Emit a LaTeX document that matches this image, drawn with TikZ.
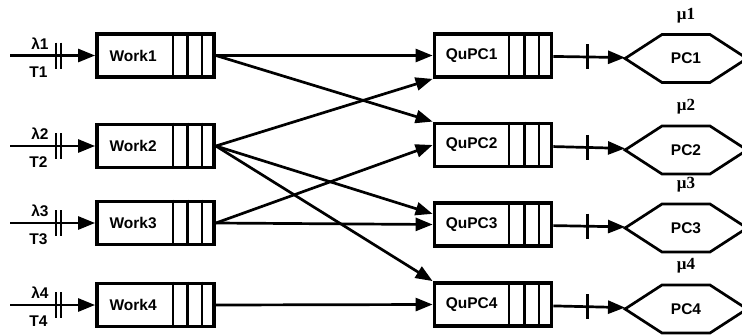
\documentclass[tikz,border=0pt]{standalone}
\usepackage{fontspec}
\setmainfont{Liberation Sans}
\newfontfamily\mufont{Liberation Serif}
\usetikzlibrary{arrows.meta,calc}

\begin{document}
\begin{tikzpicture}[x=1pt,y=-1pt,
  qbox/.style={draw, line width=3.8pt, minimum width=117pt, minimum height=43pt, inner sep=0pt},
  slot/.style={line width=2.6pt},
  lbl/.style={font=\fontsize{15.5}{17}\selectfont\bfseries, inner sep=0pt},
  mulbl/.style={font=\mufont\fontsize{17}{18}\selectfont\bfseries, inner sep=0pt},
  link/.style={line width=2.7pt, -{Triangle[length=17pt,width=13pt]}},
  bar/.style={line width=2.6pt},
  hexbox/.style={minimum width=122pt, minimum height=48pt, inner sep=0pt, outer sep=0pt},
  hexline/.style={line width=2.7pt, line join=miter}
]
\useasboundingbox (0,0) rectangle (742,335);

% job sources with their arrival queues
\foreach \i/\y in {1/55.5,2/146,3/223,4/305}{
  \node[qbox] (w\i) at (155.5,\y) {};
  \node[lbl] (wt\i) at ($(w\i.west)+(38,0)$) {Work\i};
  \foreach \d in {14,28.5,43}
    \draw[slot] ([xshift=-\d pt]w\i.north east) -- ([xshift=-\d pt]w\i.south east);
  \coordinate (in\i) at (10,\y);
  \draw[link] (in\i) -- (w\i.west)
    coordinate[pos=0.54] (ba\i) coordinate[pos=0.6] (bb\i);
  \draw[bar] ($(ba\i)+(0,-13)$) -- ($(ba\i)+(0,13)$);
  \draw[bar] ($(bb\i)+(0,-13)$) -- ($(bb\i)+(0,13)$);
  \node[lbl] (lam\i) at ($(in\i)+(30,-12)$) {λ\i};
  \node[lbl] (T\i) at ($(in\i)+(28.5,16.5)$) {T\i};
}

% processor queues
\foreach \i/\y in {1/55.5,2/145,3/224.5,4/304.5}{
  \node[qbox] (q\i) at (493,\y) {};
  \node[lbl] (qt\i) at ($(q\i.west)+(39,0)$) {QuPC\i};
  \foreach \d in {14.5,29,44.5}
    \draw[slot] ([xshift=-\d pt]q\i.north east) -- ([xshift=-\d pt]q\i.south east);
}

% processors
\foreach \i/\y in {1/58.5,2/150,3/228,4/309}{
  \node[hexbox, lbl] (pc\i) at (686,\y) {PC\i};
  \draw[hexline] (pc\i.west) -- ([xshift=37pt]pc\i.north west)
    -- ([xshift=-37pt]pc\i.north east) -- (pc\i.east)
    -- ([xshift=-37pt]pc\i.south east) -- ([xshift=37pt]pc\i.south west) -- cycle;
  \node[mulbl] (mu\i) at ([yshift=19pt]pc\i.north) {μ\i};
  \draw[link] (q\i) -- (pc\i) coordinate[pos=0.48] (tk\i);
  \draw[bar] ($(tk\i)+(0,-12.5)$) -- ($(tk\i)+(0,12.5)$);
}

% routing of jobs to processor queues
\draw[link] (w1.east) -- (q1.west);
\draw[link] (w1.east) -- (q2.north west);
\draw[link] (w2.east) -- (q1.south west);
\draw[link] (w2.east) -- (q3.170);
\draw[link] (w2.east) -- (q4.north west);
\draw[link] (w3.east) -- (q2.west);
\draw[link] (w3.east) -- (q3.west);
\draw[link] (w4.east) -- (q4.west);
\end{tikzpicture}
\end{document}
